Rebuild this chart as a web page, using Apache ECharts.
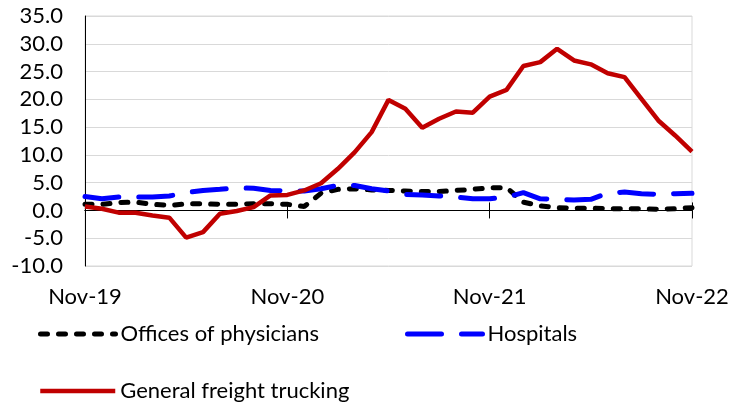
<!DOCTYPE html>
<html>
<head>
<meta charset="utf-8">
<script src="https://cdn.jsdelivr.net/npm/echarts@6/dist/echarts.min.js"></script>
<style>
  html, body { margin: 0; padding: 0; background: #fff; }
  #chart { width: 739px; height: 404px; }
</style>
</head>
<body>
<div id="chart"></div>
<script>
// monthly, Nov-19 .. Nov-22
const months = [
  'Nov-19', 'Dec-19', 'Jan-20', 'Feb-20', 'Mar-20', 'Apr-20', 'May-20', 'Jun-20', 'Jul-20', 'Aug-20', 'Sep-20', 'Oct-20',
  'Nov-20', 'Dec-20', 'Jan-21', 'Feb-21', 'Mar-21', 'Apr-21', 'May-21', 'Jun-21', 'Jul-21', 'Aug-21', 'Sep-21', 'Oct-21',
  'Nov-21', 'Dec-21', 'Jan-22', 'Feb-22', 'Mar-22', 'Apr-22', 'May-22', 'Jun-22', 'Jul-22', 'Aug-22', 'Sep-22', 'Oct-22',
  'Nov-22'
]
const physicians = [1.1, 1.1, 1.4, 1.5, 1.1, 0.9, 1.2, 1.2, 1.1, 1.1, 1.2, 1.2, 1.1, 0.7, 3.1, 3.8, 3.9, 3.7, 3.6,
  3.5, 3.4, 3.4, 3.6, 3.8, 4.1, 4.1, 1.5, 0.8, 0.5, 0.4, 0.4, 0.3, 0.3, 0.3, 0.2, 0.3, 0.5]
const hospitals = [2.5, 2.1, 2.4, 2.4, 2.4, 2.6, 3.2, 3.6, 3.8, 4.1, 4.0, 3.6, 3.5, 3.5, 3.9, 4.5, 4.5, 3.9, 3.5,
  2.9, 2.8, 2.6, 2.4, 2.1, 2.1, 2.4, 3.2, 2.1, 2.0, 1.9, 2.0, 3.1, 3.3, 3.0, 2.9, 3.0, 3.1]
const trucking = [0.7, 0.3, -0.4, -0.4, -0.9, -1.3, -4.9, -3.9, -0.6, -0.1, 0.6, 2.7, 2.8, 3.6, 4.9, 7.5, 10.5,
  14.1, 19.9, 18.3, 14.9, 16.5, 17.8, 17.6, 20.5, 21.7, 26.0, 26.7, 29.1, 27.0, 26.3, 24.7, 24.0, 20.1, 16.2, 13.5, 10.6]

const font = 'Lato'
const fontSize = 22
const textColor = '#000'
const physiciansStyle = { color: '#000', width: 5, type: [7, 11], cap: 'round' }
const hospitalsStyle = { color: '#0000ff', width: 5, type: [34, 20], cap: 'round' }
const truckingStyle = { color: '#c00000', width: 4.5 }

const chart = echarts.init(document.getElementById('chart'))

const legendBase = {
  itemWidth: 75,
  itemHeight: 14,
  itemStyle: { opacity: 0 },
  textStyle: { color: textColor, fontSize: fontSize, fontFamily: font }
}

chart.setOption({
  animation: false,
  textStyle: { fontFamily: font },
  grid: { left: 85, right: 47, top: 16, bottom: 138, show: true, borderColor: '#d9d9d9', borderWidth: 1 },
  legend: [
    Object.assign({}, legendBase, { data: ['Offices of physicians'], left: 33, top: 318, lineStyle: physiciansStyle }),
    Object.assign({}, legendBase, { data: ['Hospitals'], left: 400, top: 318, lineStyle: hospitalsStyle }),
    Object.assign({}, legendBase, { data: ['General freight trucking'], left: 33, top: 375, lineStyle: truckingStyle })
  ],
  xAxis: [
    {
      // zero line, ticks below
      type: 'category',
      data: months,
      boundaryGap: false,
      axisLine: { onZero: true, onZeroAxisIndex: 0, lineStyle: { color: '#000', width: 1 } },
      axisTick: { show: true, interval: 11, length: 8, lineStyle: { color: '#000' } },
      axisLabel: { show: false },
      splitLine: { show: false }
    },
    {
      // zero line, ticks above
      type: 'category',
      data: months,
      boundaryGap: false,
      position: 'bottom',
      axisLine: { onZero: true, onZeroAxisIndex: 0, lineStyle: { color: '#000', width: 1 } },
      axisTick: { show: true, inside: true, interval: 11, length: 8, lineStyle: { color: '#000' } },
      axisLabel: { show: false },
      splitLine: { show: false }
    },
    {
      // labels at the bottom of the plot
      type: 'category',
      data: months,
      boundaryGap: false,
      position: 'bottom',
      axisLine: { show: false, onZero: false },
      axisTick: { show: false },
      axisLabel: { interval: 11, margin: 20, color: textColor, fontSize: fontSize, fontFamily: font },
      splitLine: { show: false }
    }
  ],
  yAxis: {
    type: 'value',
    min: -10,
    max: 35,
    interval: 5,
    axisLine: { show: true, lineStyle: { color: '#000', width: 1 } },
    axisTick: { show: false },
    axisLabel: {
      margin: 22, color: textColor, fontSize: fontSize, fontFamily: font,
      formatter: v => v.toFixed(1)
    },
    splitLine: { lineStyle: { color: '#d9d9d9', width: 1 } }
  },
  series: [
    {
      name: 'Offices of physicians',
      type: 'line',
      data: physicians,
      symbol: 'none',
      lineStyle: physiciansStyle,
      itemStyle: { color: '#000' }
    },
    {
      name: 'Hospitals',
      type: 'line',
      data: hospitals,
      symbol: 'none',
      lineStyle: hospitalsStyle,
      itemStyle: { color: '#0000ff' }
    },
    {
      name: 'General freight trucking',
      type: 'line',
      data: trucking,
      symbol: 'none',
      lineStyle: truckingStyle,
      itemStyle: { color: '#c00000' }
    }
  ]
})
</script>
</body>
</html>
